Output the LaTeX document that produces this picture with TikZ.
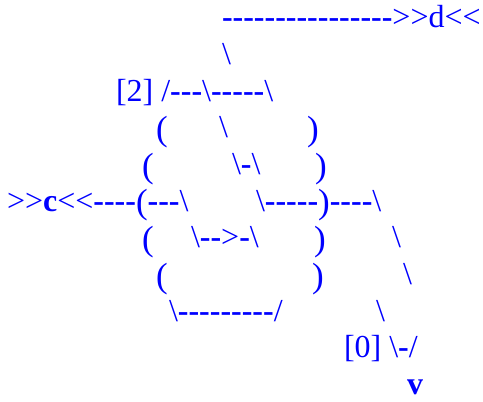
\documentclass[tikz,border=0pt]{standalone}
\usepackage{fontspec}
\setmainfont{Liberation Serif}[Ligatures=TeXOff]
\begin{document}
\begin{tikzpicture}[x=1pt,y=1pt,
  art/.style={anchor=base west,inner sep=0pt,outer sep=0pt,text=asciiblue,font=\fontsize{32}{38}\selectfont}]
\definecolor{asciiblue}{RGB}{0,0,255}
\def\bs{\textbackslash}
\def\D#1{\textbf{#1}}
\def\P#1{\raisebox{-2.5pt}{\fontsize{35}{40}\selectfont #1}}
\useasboundingbox (0,0) rectangle (483,402);
% row 0
\node[art] (r0) at (222,374) {\D{----------------}>>d<<};
% row 1
\node[art] (r1) at (222,337.3) {\bs};
% row 2
\node[art] (r2) at (116,300.6) {[2] /\D{---}\bs\D{-----}\bs};
% row 3
\node[art] (r3a) at (156,264) {\P{(}};
\node[art] (r3b) at (219,264) {\bs};
\node[art] (r3c) at (307,264) {\P{)}};
% row 4
\node[art] (r4a) at (142,227.2) {\P{(}};
\node[art] (r4b) at (232,227.2) {\bs\D{-}\bs};
\node[art] (r4c) at (315,227.2) {\P{)}};
% row 5
\node[art] (r5a) at (7,190.5) {>>\D{c}<<\D{----}\P{(}\D{---}\bs};
\node[art] (r5b) at (256,190.5) {\bs\D{-----}\P{)}\D{----}\bs};
% row 6
\node[art] (r6a) at (142,154) {\P{(}};
\node[art] (r6b) at (191,154) {\bs\D{--}>\D{-}\bs};
\node[art] (r6c) at (314,154) {\P{)}};
\node[art] (r6d) at (392,154) {\bs};
% row 7
\node[art] (r7a) at (156,117) {\P{(}};
\node[art] (r7b) at (312,117) {\P{)}};
\node[art] (r7c) at (403,117) {\bs};
% row 8
\node[art] (r8a) at (169,80.4) {\bs\D{---------}/};
\node[art] (r8b) at (376,80.4) {\bs};
% row 9
\node[art] (r9) at (344,44) {[0] \bs\D{-}/};
% row 10
\node[art] (r10) at (407,7) {\D{v}};
\end{tikzpicture}
\end{document}
